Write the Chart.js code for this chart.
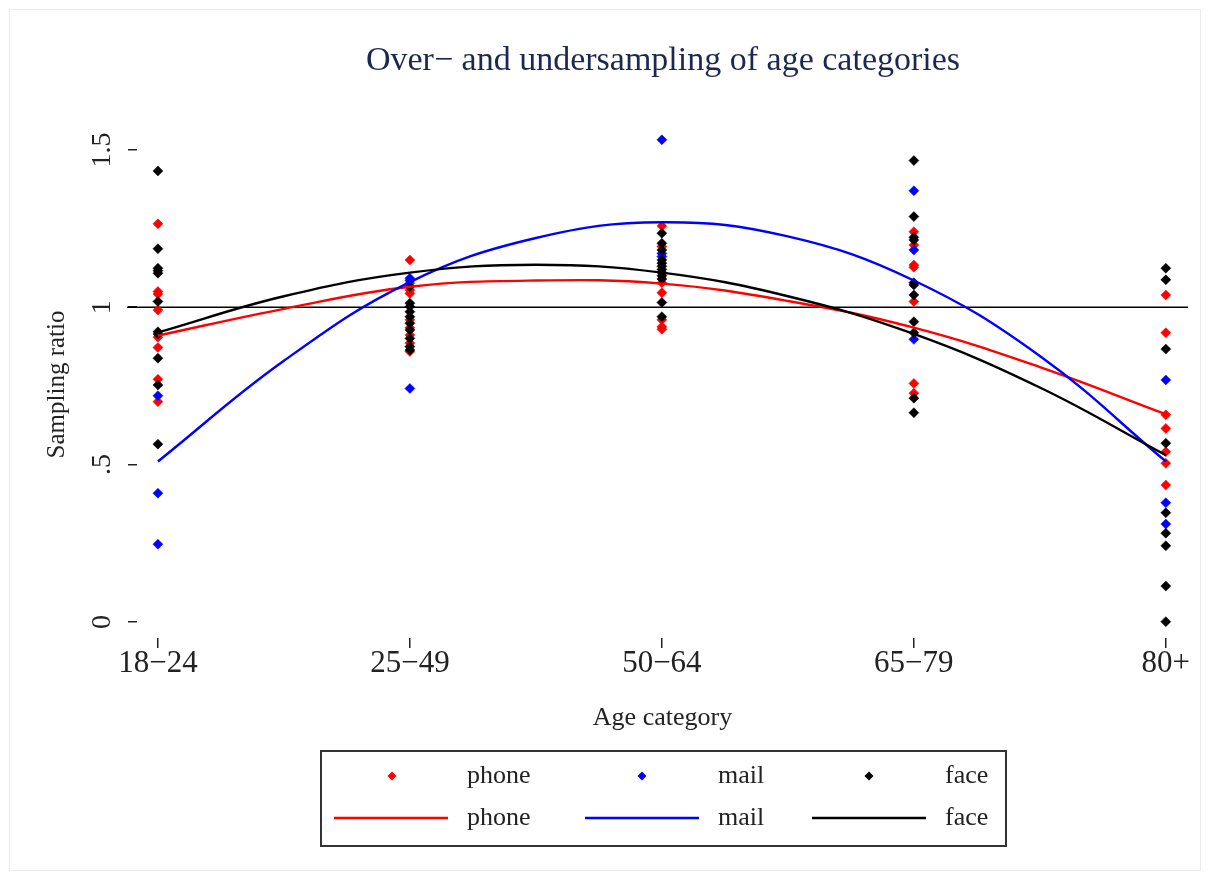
<!DOCTYPE html>
<html>
<head>
<meta charset="utf-8">
<script src="https://cdn.jsdelivr.net/npm/chart.js@4.4.1/dist/chart.umd.min.js"></script>
<style>
  html, body { margin: 0; padding: 0; background: #fff; }
  #wrap { width: 1210px; height: 879px; }
</style>
</head>
<body>
<div id="wrap"><canvas id="chart" width="1210" height="879"></canvas></div>
<script>
const categories = ["18−24", "25−49", "50−64", "65−79", "80+"];
const yTicks = [0, 0.5, 1, 1.5];
const yTickLabels = ["0", ".5", "1", "1.5"];
const refLine = 1;

// sampling ratios, one inner list per age category
const phoneRatios = [
  [1.265, 1.050, 1.042, 0.991, 0.905, 0.872, 0.771, 0.700],
  [1.150, 1.076, 1.055, 1.044, 0.960, 0.935, 0.912, 0.886, 0.859],
  [1.258, 1.193, 1.078, 1.046, 0.960, 0.938, 0.930],
  [1.240, 1.198, 1.134, 1.127, 1.018, 0.758, 0.727],
  [1.039, 0.919, 0.658, 0.615, 0.541, 0.504, 0.435]
];
const mailRatios = [
  [0.719, 0.409, 0.247],
  [1.092, 1.085, 0.742],
  [1.532, 1.171, 1.161],
  [1.370, 1.182, 0.898],
  [0.769, 0.379, 0.311]
];
const faceRatios = [
  [1.433, 1.186, 1.124, 1.116, 1.108, 1.018, 0.922, 0.915, 0.838, 0.753, 0.565],
  [1.066, 1.013, 1.002, 0.986, 0.970, 0.949, 0.928, 0.901, 0.875, 0.864],
  [1.235, 1.203, 1.182, 1.150, 1.140, 1.130, 1.120, 1.110, 1.100, 1.090, 1.015, 0.970],
  [1.466, 1.288, 1.222, 1.214, 1.078, 1.071, 1.039, 0.954, 0.919, 0.711, 0.665],
  [1.124, 1.087, 0.867, 0.568, 0.347, 0.282, 0.242, 0.114, 0.001]
];

const fitX = [1, 1.5, 2, 2.5, 3, 3.5, 4, 4.5, 5];
const phoneFit = [0.910, 0.995, 1.065, 1.085, 1.075, 1.020, 0.935, 0.810, 0.660];
const mailFit = [0.510, 0.830, 1.080, 1.220, 1.270, 1.225, 1.085, 0.845, 0.510];
const faceFit = [0.920, 1.035, 1.110, 1.135, 1.110, 1.035, 0.915, 0.745, 0.530];

const RED = "#ff0000", BLUE = "#0000ff", BLACK = "#000000";
const serif = "'Liberation Serif', 'Times New Roman', serif";

function toPoints(groups) {
  let pts = [];
  groups.forEach((vals, i) => vals.forEach(v => pts.push({ x: i + 1, y: v })));
  return pts;
}
function toLine(xs, ys) {
  return xs.map((x, i) => ({ x: x, y: ys[i] }));
}
function dots(label, groups, color, order) {
  return {
    label, data: toPoints(groups), order,
    pointStyle: "rectRot", pointRadius: 5, pointHoverRadius: 5,
    backgroundColor: color, borderColor: color, borderWidth: 0.5,
    showLine: false
  };
}
function curve(label, ys, color, order) {
  return {
    label, data: toLine(fitX, ys), order,
    showLine: true, pointRadius: 0, borderColor: color, borderWidth: 2.4,
    backgroundColor: color, tension: 0.4, fill: false
  };
}

// title, rotated y labels and the boxed legend
const extras = {
  id: "extras",
  afterDraw(chart) {
    const ctx = chart.ctx;
    const ys = chart.scales.y;
    ctx.save();

    ctx.strokeStyle = "#ececec";
    ctx.lineWidth = 1;
    ctx.strokeRect(9.5, 9.5, 1191, 861);

    ctx.fillStyle = "#1c2852";
    ctx.font = "34px " + serif;
    ctx.textAlign = "center";
    ctx.textBaseline = "alphabetic";
    ctx.fillText("Over− and undersampling of age categories", 663, 70);

    ctx.fillStyle = "#222";
    ctx.font = "28px " + serif;
    yTicks.forEach((v, i) => {
      ctx.save();
      ctx.translate(103, ys.getPixelForValue(v));
      ctx.rotate(-Math.PI / 2);
      ctx.textAlign = "center";
      ctx.textBaseline = "middle";
      ctx.fillText(yTickLabels[i], 0, 0);
      ctx.restore();
    });

    // legend
    ctx.strokeStyle = "#333";
    ctx.lineWidth = 2;
    ctx.strokeRect(321, 751, 685, 95);
    const names = ["phone", "mail", "face"];
    const cols = [RED, BLUE, BLACK];
    const markX = [392, 642, 869];
    const lineX = [334, 585, 812];
    const textX = [467, 718, 945];
    ctx.font = "26px " + serif;
    ctx.textAlign = "left";
    ctx.textBaseline = "middle";
    names.forEach((n, i) => {
      ctx.fillStyle = cols[i];
      ctx.beginPath();
      ctx.moveTo(markX[i] - 4.5, 776);
      ctx.lineTo(markX[i], 771.5);
      ctx.lineTo(markX[i] + 4.5, 776);
      ctx.lineTo(markX[i], 780.5);
      ctx.closePath();
      ctx.fill();
      ctx.strokeStyle = cols[i];
      ctx.lineWidth = 2.4;
      ctx.beginPath();
      ctx.moveTo(lineX[i], 818);
      ctx.lineTo(lineX[i] + 114, 818);
      ctx.stroke();
      ctx.fillStyle = "#222";
      ctx.fillText(n, textX[i], 776);
      ctx.fillText(n, textX[i], 818);
    });
    ctx.restore();
  }
};

new Chart(document.getElementById("chart"), {
  type: "scatter",
  data: {
    datasets: [
      curve("face", faceFit, BLACK, 1),
      curve("mail", mailFit, BLUE, 2),
      curve("phone", phoneFit, RED, 3),
      dots("face", faceRatios, BLACK, 5),
      dots("mail", mailRatios, BLUE, 6),
      dots("phone", phoneRatios, RED, 7),
      {
        label: "ref", data: [{ x: 0.877, y: refLine }, { x: 5.088, y: refLine }], order: 8,
        showLine: true, pointRadius: 0, borderColor: BLACK, borderWidth: 1.5
      }
    ]
  },
  options: {
    responsive: false,
    animation: false,
    clip: false,
    layout: { padding: { top: 131, right: 22, bottom: 0, left: 0 } },
    plugins: { legend: { display: false }, tooltip: { enabled: false }, title: { display: false } },
    scales: {
      x: {
        type: "linear", min: 0.917, max: 5.088,
        afterBuildTicks: s => { s.ticks = categories.map((c, i) => ({ value: i + 1 })); },
        afterFit: s => { s.height = 241; },
        grid: { drawOnChartArea: false, drawTicks: true, tickLength: 10, color: "#222", lineWidth: 1.5 },
        border: { display: false },
        ticks: {
          padding: 0, color: "#222",
          font: { family: serif, size: 31, lineHeight: 1 },
          maxRotation: 0, autoSkip: false,
          callback: v => categories[v - 1]
        },
        title: {
          display: true, text: "Age category", color: "#222",
          font: { family: serif, size: 26, lineHeight: 1.2 },
          padding: { bottom: 145 }
        }
      },
      y: {
        min: -0.051, max: 1.56,
        afterBuildTicks: s => { s.ticks = yTicks.map(v => ({ value: v })); },
        afterFit: s => { s.width = 137; },
        grid: { drawOnChartArea: false, drawTicks: true, tickLength: 9, color: "#222", lineWidth: 1.5 },
        border: { display: false },
        ticks: { display: false },
        title: {
          display: true, text: "Sampling ratio", color: "#222",
          font: { family: serif, size: 25, lineHeight: 1.2 },
          padding: { top: 42 }
        }
      }
    }
  },
  plugins: [extras]
});
</script>
</body>
</html>
